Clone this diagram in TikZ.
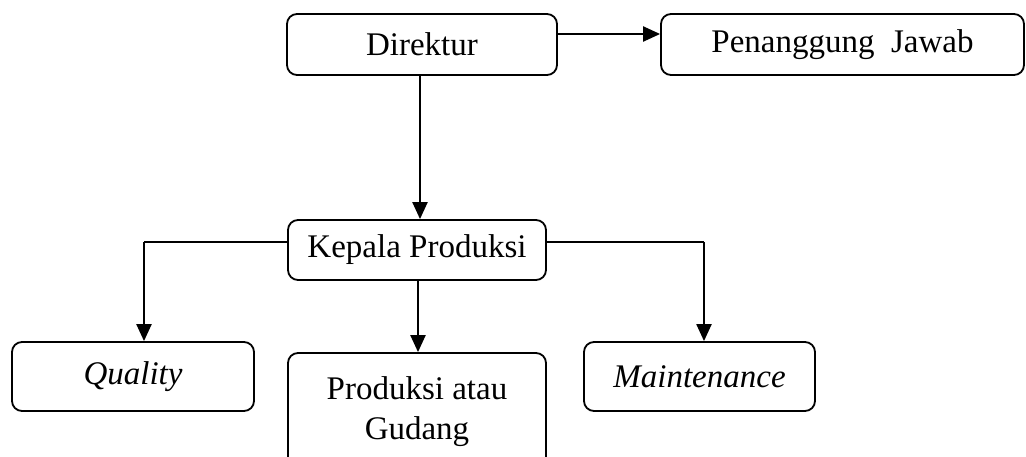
\documentclass[tikz,border=0pt]{standalone}
\usepackage{fontspec}
\setmainfont{Liberation Serif}
\usetikzlibrary{arrows.meta,calc}
\begin{document}
\begin{tikzpicture}[x=1pt,y=-1pt,
  box/.style={draw,line width=1.8pt,rounded corners=10pt,inner sep=0pt,align=center,font=\fontsize{33}{40}\selectfont},
  conn/.style={line width=2.2pt,-{Triangle[length=17pt,width=15pt]}}]
\useasboundingbox (0,0) rectangle (1026,457);
\clip (0,0) rectangle (1026,457);
\node[box,minimum width=270pt,minimum height=61pt] (dir) at (422,44.5) {Direktur};
\node[box,minimum width=363pt,minimum height=61pt] (pj) at (842.5,44.5) {Penanggung\ \ Jawab};
\node[box,minimum width=258pt,minimum height=60pt] (kp) at (417,250) {Kepala Produksi};
\node[box,minimum width=242pt,minimum height=69pt] (qu) at (133,376.5) {\itshape Quality};
\node[box,minimum width=258pt,minimum height=117pt] (pg) at (417,411.5) {Produksi atau\\Gudang};
\node[box,minimum width=231pt,minimum height=69pt] (mt) at (699.5,376.5) {\itshape Maintenance};
\coordinate (ql) at (144,242);
\coordinate (mr) at (704,242);
\draw[conn] ([yshift=10.5pt]dir.east) -- ([yshift=10.5pt]pj.west);
\draw[conn] ([xshift=-2pt]dir.south) -- ([xshift=-2pt]dir.south |- kp.north);
\draw[line width=2.2pt] ([yshift=8pt]kp.west) -- (ql);
\draw[conn] (ql) -- (ql |- qu.north);
\draw[line width=2.2pt] ([yshift=8pt]kp.east) -- (mr);
\draw[conn] (mr) -- (mr |- mt.north);
\draw[conn] ([xshift=1pt]kp.south) -- ([xshift=1pt]kp.south |- pg.north);
\end{tikzpicture}
\end{document}
